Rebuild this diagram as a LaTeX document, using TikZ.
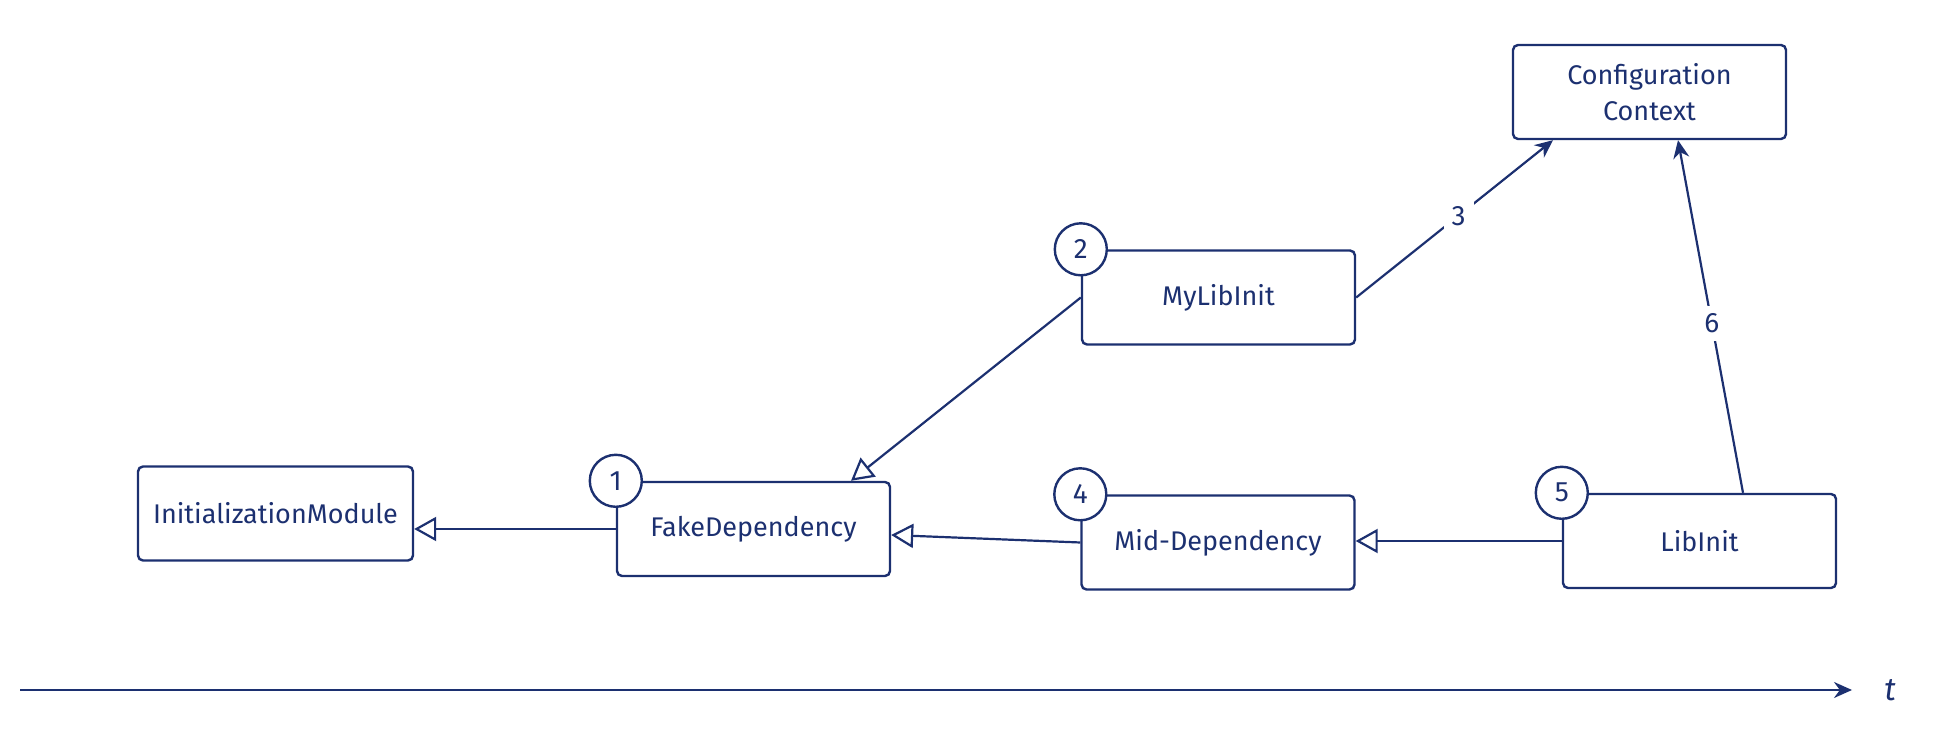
\documentclass[tikz,border=0pt]{standalone}
\usepackage{fontspec}
\setmainfont{Fira Sans}
\usetikzlibrary{arrows.meta,calc}
\definecolor{ink}{RGB}{28,48,112}
\tikzset{
  box/.style={draw=ink, line width=1.2pt, rounded corners=2.5pt, minimum width=136.5pt, minimum height=47pt, align=center, text=ink, font=\fontsize{13.5}{18}\selectfont, inner sep=2pt},
  numc/.style={circle, draw=ink, fill=white, line width=1.2pt, minimum size=26pt, inner sep=0pt, text=ink, font=\fontsize{14}{16}\selectfont},
  conn/.style={draw=ink, line width=1.1pt},
  inherit/.style={conn, -{Triangle[open, length=11pt, width=12pt, fill=white]}},
  uses/.style={conn, -{Stealth[length=9pt, width=8pt]}},
  lbl/.style={fill=white, text=ink, font=\fontsize{14}{16}\selectfont, inner sep=4pt}
}
\begin{document}
\begin{tikzpicture}[x=0.5pt, y=-0.5pt]
\useasboundingbox (0,0) rectangle (1949,742);
\node[box] (cfg) at (1649.5,92) {Configuration\\Context};
\node[box] (mylib) at (1218.5,297.5) {MyLibInit};
\node[box] (fake) at (753.5,529) {FakeDependency};
\node[box] (mid) at (1218,542.5) {Mid-Dependency};
\node[box] (lib) at (1699.5,541) {LibInit};
\node[box, minimum width=137.5pt] (initm) at (275.5,513.5) {InitializationModule};

\draw[inherit] (fake.west) -- (fake.west -| initm.east);
\draw[inherit] (mylib.west) -- ([xshift=48.75pt]fake.north);
\draw[inherit] (mid.west) -- ([yshift=-3pt]fake.east);
\draw[inherit] (lib.west) -- (lib.west -| mid.east);
\draw[uses] (mylib.east) -- node[lbl, pos=0.52] {3} ([xshift=-48.25pt]cfg.south);
\draw[uses] ([xshift=21.75pt]lib.north) -- node[lbl, pos=0.48] {6} ([xshift=14.25pt]cfg.south);

\node[numc] (n1) at (fake.north west) {1};
\node[numc] (n2) at (mylib.north west) {2};
\node[numc] (n4) at (mid.north west) {4};
\node[numc] (n5) at (lib.north west) {5};

\coordinate (t0) at (20,690);
\coordinate (t1) at (1852,690);
\draw[uses] (t0) -- (t1);
\node[text=ink, font=\fontsize{16}{18}\selectfont\itshape] (tl) at (1890,690) {t};
\end{tikzpicture}
\end{document}
